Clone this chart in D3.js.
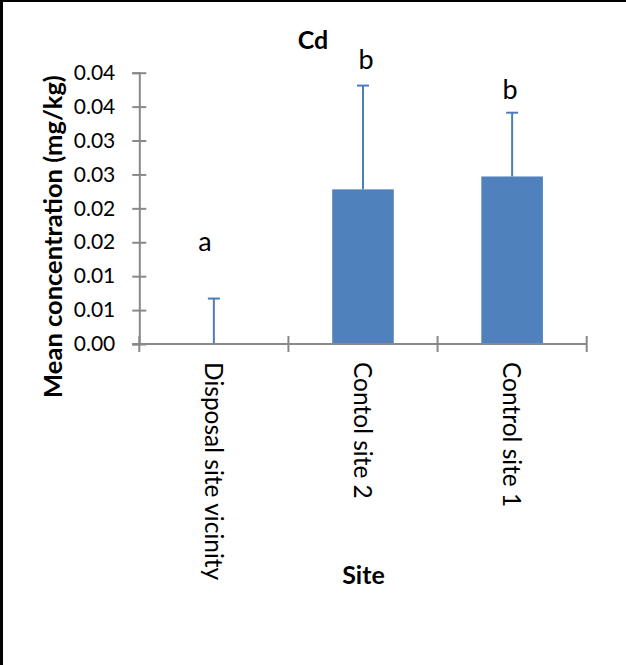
<!DOCTYPE html>
<html>
<head>
<meta charset="utf-8">
<script src="https://cdn.jsdelivr.net/npm/d3@7"></script>
<style>
  html, body { margin: 0; padding: 0; background: #fff; }
  svg { display: block; font-family: Lato, "Open Sans", sans-serif; }
</style>
</head>
<body>
<svg id="chart" width="626" height="665"></svg>
<script>
// Mean Cd concentration per site, with upward standard-deviation bars
const sites = ["Disposal site vicinity", "Contol site 2", "Control site 1"];
const means = [0, 0.0228, 0.0247];
const errors = [0.0067, 0.0153, 0.0094];
const groupLetters = ["a", "b", "b"];
const letterLevels = [0.0137, 0.0406, 0.0361];   // baseline of each letter, in mg/kg
const yTicks = [0, 0.005, 0.01, 0.015, 0.02, 0.025, 0.03, 0.035, 0.04];
const yTickLabels = ["0.00", "0.01", "0.01", "0.02", "0.02", "0.03", "0.03", "0.04", "0.04"];

const svg = d3.select("#chart");
const W = 626, H = 665;
const plot = { left: 139.3, right: 586.7, top: 72.7, bottom: 344 };

const barColor = "#4f81bd";
const errColor = "#4a7ebb";
const axisColor = "#898989";
const letterNudge = [-9, 3, -2];

// frame edges
svg.append("line").attr("x1", 1.5).attr("x2", 1.5).attr("y1", 0).attr("y2", H)
  .attr("stroke", "#000").attr("stroke-width", 3);
svg.append("line").attr("x1", 0).attr("x2", W).attr("y1", 1).attr("y2", 1)
  .attr("stroke", "#000").attr("stroke-width", 2);

const x = d3.scaleBand().domain(sites).range([plot.left, plot.right])
  .paddingInner(0.587).paddingOuter(0.2935);
const y = d3.scaleLinear().domain([0, 0.04]).range([plot.bottom, plot.top]);

// bars
svg.append("g").selectAll("rect").data(sites).join("rect")
  .attr("x", d => x(d))
  .attr("width", x.bandwidth())
  .attr("y", (d, i) => y(means[i]))
  .attr("height", (d, i) => y(0) - y(means[i]))
  .attr("fill", barColor);

// error bars (upper half only)
const eb = svg.append("g").attr("stroke", errColor).attr("stroke-width", 2);
sites.forEach((s, i) => {
  const cx = x(s) + x.bandwidth() / 2;
  const top = y(means[i] + errors[i]);
  eb.append("line").attr("x1", cx).attr("x2", cx).attr("y1", y(means[i])).attr("y2", top);
  eb.append("line").attr("x1", cx - 6).attr("x2", cx + 6).attr("y1", top).attr("y2", top);
});

// y axis
const yAxis = d3.axisLeft(y).tickValues(yTicks)
  .tickFormat((d, i) => yTickLabels[i]).tickSize(7).tickPadding(17);
const gy = svg.append("g").attr("transform", `translate(${plot.left},0)`).call(yAxis);
gy.select(".domain").attr("stroke", axisColor).attr("stroke-width", 2);
gy.selectAll(".tick line").attr("x1", -7).attr("x2", 7)
  .attr("stroke", axisColor).attr("stroke-width", 2);
gy.selectAll(".tick text").attr("fill", "#000")
  .style("font-size", "21px").style("font-family", "Lato, sans-serif");

// x axis line with crossing ticks at the band boundaries
const bounds = [plot.left, ...sites.map(s => x(s) + x.bandwidth() / 2 + x.step() / 2)];
svg.append("line").attr("x1", plot.left - 7).attr("x2", plot.right)
  .attr("y1", plot.bottom).attr("y2", plot.bottom)
  .attr("stroke", axisColor).attr("stroke-width", 2);
svg.append("g").selectAll("line").data(bounds).join("line")
  .attr("x1", d => d).attr("x2", d => d)
  .attr("y1", plot.bottom - 8).attr("y2", plot.bottom + 8)
  .attr("stroke", axisColor).attr("stroke-width", 2);

// category labels, rotated to read downward
svg.append("g").selectAll("text").data(sites).join("text")
  .attr("transform", d => `translate(${x(d) + x.bandwidth() / 2},362) rotate(90)`)
  .attr("dy", "0.36em")
  .attr("text-anchor", "start")
  .style("font-size", "24.5px")
  .text(d => d);

// significance letters
svg.append("g").selectAll("text").data(groupLetters).join("text")
  .attr("x", (d, i) => x(sites[i]) + x.bandwidth() / 2 + letterNudge[i])
  .attr("y", (d, i) => y(letterLevels[i]))
  .attr("text-anchor", "middle")
  .style("font-size", "27px")
  .text(d => d);

// titles
svg.append("text").attr("x", 313).attr("y", 49).attr("text-anchor", "middle")
  .style("font-size", "25px").style("font-weight", "bold").text("Cd");
svg.append("text").attr("x", 363.5).attr("y", 584).attr("text-anchor", "middle")
  .style("font-size", "25px").style("font-weight", "bold").text("Site");
svg.append("text").attr("transform", "translate(62,236.5) rotate(-90)")
  .attr("text-anchor", "middle")
  .style("font-size", "25.5px").style("font-weight", "bold")
  .text("Mean concentration (mg/kg)");
</script>
</body>
</html>
